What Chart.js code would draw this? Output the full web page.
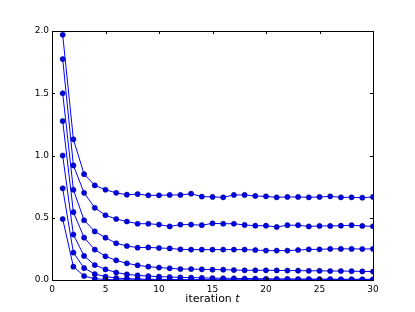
<!DOCTYPE html>
<html>
<head>
<meta charset="utf-8">
<script src="https://cdn.jsdelivr.net/npm/chart.js@4"></script>
<style>
  html, body { margin: 0; padding: 0; background: #fff; }
  #wrap { width: 415px; height: 312px; }
</style>
</head>
<body>
<div id="wrap"><canvas id="c" width="415" height="312"></canvas></div>
<script>
// iteration numbers and one array per curve
const iterations = [1,2,3,4,5,6,7,8,9,10,11,12,13,14,15,16,17,18,19,20,21,22,23,24,25,26,27,28,29,30];

const s1 = [1.97, 1.13, 0.85, 0.76, 0.725, 0.70, 0.685, 0.69, 0.68, 0.68, 0.683, 0.683, 0.693, 0.67, 0.667, 0.664, 0.683, 0.683, 0.675, 0.672, 0.664, 0.667, 0.667, 0.664, 0.667, 0.672, 0.664, 0.664, 0.661, 0.667];
const s2 = [1.775, 0.92, 0.70, 0.58, 0.52, 0.49, 0.47, 0.452, 0.452, 0.445, 0.43, 0.445, 0.445, 0.44, 0.455, 0.452, 0.452, 0.442, 0.436, 0.436, 0.426, 0.44, 0.44, 0.43, 0.434, 0.434, 0.436, 0.44, 0.434, 0.431];
const s3 = [1.50, 0.725, 0.48, 0.39, 0.34, 0.295, 0.273, 0.26, 0.262, 0.257, 0.254, 0.246, 0.244, 0.244, 0.244, 0.244, 0.244, 0.244, 0.241, 0.236, 0.236, 0.236, 0.241, 0.246, 0.246, 0.25, 0.25, 0.25, 0.249, 0.25];
const s4 = [1.277, 0.545, 0.34, 0.244, 0.19, 0.158, 0.134, 0.118, 0.107, 0.10, 0.094, 0.088, 0.088, 0.086, 0.083, 0.083, 0.08, 0.078, 0.078, 0.078, 0.077, 0.076, 0.075, 0.074, 0.074, 0.072, 0.072, 0.071, 0.069, 0.068];
const s5 = [1.00, 0.365, 0.193, 0.12, 0.085, 0.06, 0.045, 0.037, 0.031, 0.027, 0.024, 0.021, 0.019, 0.017, 0.015, 0.014, 0.013, 0.012, 0.011, 0.010, 0.009, 0.009, 0.008, 0.008, 0.007, 0.007, 0.006, 0.006, 0.006, 0.005];
const s6 = [0.736, 0.22, 0.096, 0.048, 0.027, 0.016, 0.011, 0.008, 0.006, 0.005, 0.004, 0.003, 0.003, 0.002, 0.002, 0.002, 0.001, 0.001, 0.001, 0.001, 0.001, 0.001, 0.001, 0.001, 0.001, 0.001, 0.001, 0.001, 0.001, 0.001];
const s7 = [0.49, 0.107, 0.032, 0.01, 0.004, 0.002, 0.001, 0.001, 0, 0, 0, 0, 0, 0, 0, 0, 0, 0, 0, 0, 0, 0, 0, 0, 0, 0, 0, 0, 0, 0];

const xTicks = [0, 5, 10, 15, 20, 25, 30];
const yTicks = [0.0, 0.5, 1.0, 1.5, 2.0];
const xLabel = "iteration ";
const xLabelVar = "t";

const allSeries = [s1, s2, s3, s4, s5, s6, s7];

// box + inward ticks on all four sides, like matplotlib classic
const frame = {
  id: "frame",
  afterDraw(chart) {
    const { ctx, chartArea: a, scales } = chart;
    ctx.save();
    ctx.strokeStyle = "#000";
    ctx.lineWidth = 1;
    ctx.strokeRect(Math.round(a.left) + 0.5, Math.round(a.top) + 0.5,
                   Math.round(a.right - a.left), Math.round(a.bottom - a.top));
    const tl = 3;
    ctx.beginPath();
    xTicks.forEach(v => {
      const px = Math.round(scales.x.getPixelForValue(v)) + 0.5;
      ctx.moveTo(px, a.bottom); ctx.lineTo(px, a.bottom - tl);
      ctx.moveTo(px, a.top); ctx.lineTo(px, a.top + tl);
    });
    yTicks.forEach(v => {
      const py = Math.round(scales.y.getPixelForValue(v)) + 0.5;
      ctx.moveTo(a.left, py); ctx.lineTo(a.left + tl, py);
      ctx.moveTo(a.right, py); ctx.lineTo(a.right - tl, py);
    });
    ctx.stroke();

    // axis label with italic variable
    const font1 = "11px 'DejaVu Sans'";
    const font2 = "italic 11px 'DejaVu Sans'";
    ctx.font = font1;
    const w1 = ctx.measureText(xLabel).width;
    ctx.font = font2;
    const w2 = ctx.measureText(xLabelVar).width;
    const cx = (a.left + a.right) / 2;
    const y = 302;
    ctx.fillStyle = "#000";
    ctx.textBaseline = "alphabetic";
    ctx.textAlign = "left";
    ctx.font = font1;
    ctx.fillText(xLabel, cx - (w1 + w2) / 2, y);
    ctx.font = font2;
    ctx.fillText(xLabelVar, cx - (w1 + w2) / 2 + w1, y);
    ctx.restore();
  }
};

new Chart(document.getElementById("c"), {
  type: "line",
  data: {
    datasets: allSeries.map(s => ({
      data: s.map((v, i) => ({ x: iterations[i], y: v })),
      borderColor: "#0000ff",
      borderWidth: 1,
      backgroundColor: "#0000e6",
      pointBorderColor: "#00006e",
      pointBorderWidth: 0.5,
      pointRadius: 2.6,
      tension: 0,
      fill: false
    }))
  },
  options: {
    responsive: false,
    animation: false,
    devicePixelRatio: 1,
    layout: { padding: { left: 0, right: 42, top: 31, bottom: 0 } },
    plugins: { legend: { display: false }, tooltip: { enabled: false } },
    scales: {
      x: {
        type: "linear",
        min: 0, max: 30,
        afterFit(s) { s.height = 32; },
        afterBuildTicks(s) { s.ticks = xTicks.map(v => ({ value: v })); },
        grid: { display: false, drawTicks: false },
        border: { display: false },
        ticks: { padding: 4, color: "#000", font: { family: "DejaVu Sans", size: 9 }, maxRotation: 0 }
      },
      y: {
        min: 0, max: 2,
        afterFit(s) { s.width = 52; },
        afterBuildTicks(s) { s.ticks = yTicks.map(v => ({ value: v })); },
        grid: { display: false, drawTicks: false },
        border: { display: false },
        ticks: { padding: 3, color: "#000", font: { family: "DejaVu Sans", size: 9 },
                 callback: v => Number(v).toFixed(1) }
      }
    }
  },
  plugins: [frame]
});
</script>
</body>
</html>
